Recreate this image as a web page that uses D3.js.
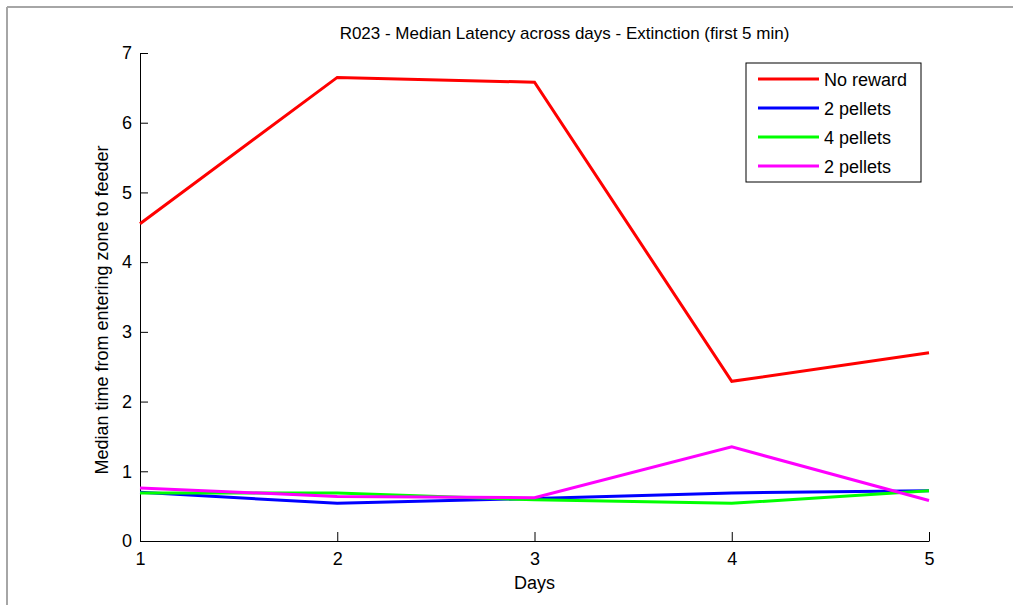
<!DOCTYPE html>
<html>
<head>
<meta charset="utf-8">
<script src="https://cdn.jsdelivr.net/npm/d3@7"></script>
<style>
  body { margin: 0; background: #fff; }
  text { font-family: "Liberation Sans", Arial, sans-serif; fill: #000; }
</style>
</head>
<body>
<div id="chart"></div>
<script>
// data
var days = [1, 2, 3, 4, 5];
var noReward = [4.55, 6.65, 6.58, 2.29, 2.70];
var twoPellets = [0.70, 0.54, 0.61, 0.69, 0.72];
var fourPellets = [0.69, 0.69, 0.59, 0.54, 0.72];
var twoPelletsB = [0.76, 0.64, 0.62, 1.35, 0.58];
var seriesNames = ['No reward', '2 pellets', '4 pellets', '2 pellets'];
var seriesColors = ['#ff0000', '#0000ff', '#00ff00', '#ff00ff'];
var yTicks = [0, 1, 2, 3, 4, 5, 6, 7];
var xTicks = [1, 2, 3, 4, 5];

var allSeries = [noReward, twoPellets, fourPellets, twoPelletsB];

var W = 1013, H = 605;
var margin = {top: 53, right: 84, bottom: 64, left: 140};
var width = W - margin.left - margin.right;
var height = H - margin.top - margin.bottom;

var svg = d3.select('#chart').append('svg')
    .attr('width', W)
    .attr('height', H);

// grey figure frame (top and left)
svg.append('line')
    .attr('x1', 7).attr('y1', 7).attr('x2', W).attr('y2', 7)
    .style('stroke', '#a6a6a6').style('stroke-width', 2);
svg.append('line')
    .attr('x1', 7).attr('y1', 7).attr('x2', 7).attr('y2', H)
    .style('stroke', '#a6a6a6').style('stroke-width', 2);

var g = svg.append('g')
    .attr('transform', 'translate(' + margin.left + ',' + margin.top + ')');

var xScale = d3.scaleLinear().domain([1, 5]).range([0, width]);
var yScale = d3.scaleLinear().domain([0, 7]).range([height, 0]);

// axes, ticks pointing inward like matlab
var xAxis = d3.axisBottom(xScale).tickValues(xTicks)
    .tickSizeInner(-9).tickSizeOuter(0).tickPadding(11)
    .tickFormat(d3.format('d'));
var yAxis = d3.axisLeft(yScale).tickValues(yTicks)
    .tickSizeInner(-8).tickSizeOuter(0).tickPadding(8)
    .tickFormat(d3.format('d'));

var gx = g.append('g')
    .attr('transform', 'translate(0,' + height + ')')
    .call(xAxis);
var gy = g.append('g').call(yAxis);

[gx, gy].forEach(function(a){
    a.select('.domain').style('stroke', '#000').style('stroke-width', 1);
    a.selectAll('.tick line').style('stroke', '#000');
    a.selectAll('.tick text')
        .style('font-size', '18px')
        .style('font-family', '"Liberation Sans", Arial, sans-serif');
});

// lines
var line = d3.line()
    .x(function(d, i){ return xScale(days[i]); })
    .y(function(d){ return yScale(d); });

allSeries.forEach(function(s, k){
    g.append('path')
        .datum(s)
        .attr('d', line)
        .style('fill', 'none')
        .style('stroke', seriesColors[k])
        .style('stroke-width', 3)
        .style('stroke-linejoin', 'miter');
});

// title and labels
svg.append('text')
    .attr('x', margin.left + width / 2 + 30)
    .attr('y', 39)
    .attr('text-anchor', 'middle')
    .style('font-size', '17px')
    .text('R023 - Median Latency across days - Extinction (first 5 min)');

svg.append('text')
    .attr('x', margin.left + width / 2)
    .attr('y', 589)
    .attr('text-anchor', 'middle')
    .style('font-size', '18px')
    .text('Days');

svg.append('text')
    .attr('transform', 'translate(108,310) rotate(-90)')
    .attr('text-anchor', 'middle')
    .style('font-size', '18px')
    .text('Median time from entering zone to feeder');

// legend
var leg = svg.append('g').attr('transform', 'translate(746,63)');
leg.append('rect')
    .attr('x', 0).attr('y', 0)
    .attr('width', 175).attr('height', 119)
    .style('fill', '#fff').style('stroke', '#000').style('stroke-width', 1);

seriesNames.forEach(function(name, k){
    var yy = 16 + k * 29;
    leg.append('line')
        .attr('x1', 12).attr('x2', 73)
        .attr('y1', yy).attr('y2', yy)
        .style('stroke', seriesColors[k])
        .style('stroke-width', 3);
    leg.append('text')
        .attr('x', 78).attr('y', yy + 7)
        .style('font-size', '18px')
        .text(name);
});
</script>
</body>
</html>
